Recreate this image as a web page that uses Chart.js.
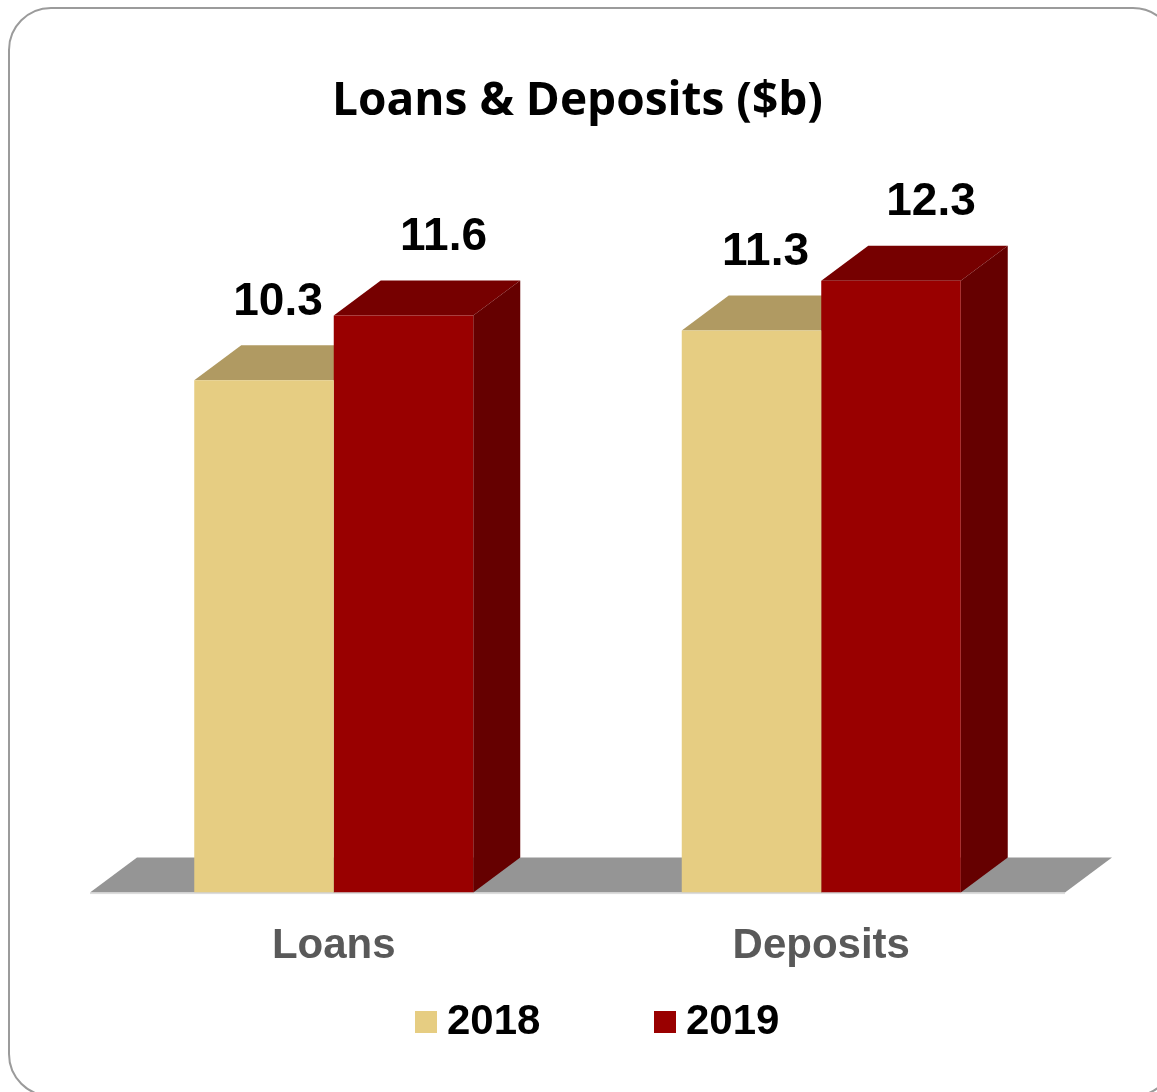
<!DOCTYPE html>
<html lang="en">
<head>
    <meta charset="UTF-8">
    <title>Loans & Deposits</title>
    <style>
        html, body { margin: 0; padding: 0; background: #ffffff; }
        canvas { display: block; }
    </style>
</head>
<body>
    <canvas id="loansChart" width="1157" height="1092"></canvas>

    <script src="https://cdn.jsdelivr.net/npm/chart.js@4/dist/chart.umd.min.js"></script>
    <script>
        // donnees
        const categories = ['Loans', 'Deposits'];
        const seriesLabels = ['2018', '2019'];
        const values2018 = [10.3, 11.3];
        const values2019 = [11.6, 12.3];

        const frontColors = ['#E6CD82', '#990000'];
        const topColors = ['#B09A62', '#760000'];
        const sideColors = ['#8C7A4C', '#650000'];
        const depthX = 47, depthY = 35;
        const arial = "'Liberation Sans', Arial, sans-serif";

        // cadre arrondi
        const framePlugin = {
            id: 'frame',
            beforeDraw(chart) {
                const c = chart.ctx;
                const x = 9, y = 8, w = 1166, h = 1088, r = 42;
                c.save();
                c.fillStyle = '#ffffff';
                c.fillRect(0, 0, chart.width, chart.height);
                c.beginPath();
                c.moveTo(x + r, y);
                c.lineTo(x + w - r, y);
                c.arcTo(x + w, y, x + w, y + r, r);
                c.lineTo(x + w, y + h - r);
                c.arcTo(x + w, y + h, x + w - r, y + h, r);
                c.lineTo(x + r, y + h);
                c.arcTo(x, y + h, x, y + h - r, r);
                c.lineTo(x, y + r);
                c.arcTo(x, y, x + r, y, r);
                c.closePath();
                c.strokeStyle = '#9b9b9b';
                c.lineWidth = 2;
                c.stroke();
                c.restore();
            }
        };

        // sol + faces 3D (dessus et cote) avant les faces avant
        const depthPlugin = {
            id: 'depth',
            beforeDatasetsDraw(chart) {
                const c = chart.ctx;
                const area = chart.chartArea;
                const y0 = chart.scales.y.getPixelForValue(0);
                c.save();
                c.fillStyle = '#959595';
                c.beginPath();
                c.moveTo(area.left, y0);
                c.lineTo(area.left + depthX, y0 - depthY);
                c.lineTo(area.right + depthX, y0 - depthY);
                c.lineTo(area.right, y0);
                c.closePath();
                c.fill();
                c.fillStyle = '#dcdcdc';
                c.fillRect(area.left, y0, area.right - area.left, 1.5);

                chart.data.datasets.forEach((ds, di) => {
                    chart.getDatasetMeta(di).data.forEach(bar => {
                        const x0 = bar.x - bar.width / 2;
                        const x1 = bar.x + bar.width / 2;
                        const yt = bar.y, yb = bar.base;
                        c.fillStyle = topColors[di];
                        c.beginPath();
                        c.moveTo(x0, yt);
                        c.lineTo(x0 + depthX, yt - depthY);
                        c.lineTo(x1 + depthX, yt - depthY);
                        c.lineTo(x1, yt);
                        c.closePath();
                        c.fill();
                        c.fillStyle = sideColors[di];
                        c.beginPath();
                        c.moveTo(x1, yt);
                        c.lineTo(x1 + depthX, yt - depthY);
                        c.lineTo(x1 + depthX, yb - depthY);
                        c.lineTo(x1, yb);
                        c.closePath();
                        c.fill();
                    });
                });
                c.restore();
            }
        };

        // etiquettes de valeurs
        const labelOffsetX = [14, 40];
        const valueLabels = {
            id: 'valueLabels',
            afterDatasetsDraw(chart) {
                const c = chart.ctx;
                c.save();
                c.font = 'bold 46px ' + arial;
                c.fillStyle = '#000000';
                c.textAlign = 'center';
                c.textBaseline = 'middle';
                chart.data.datasets.forEach((ds, di) => {
                    chart.getDatasetMeta(di).data.forEach((bar, i) => {
                        c.fillText(ds.data[i].toFixed(1), bar.x + labelOffsetX[di], bar.y - 78);
                    });
                });
                c.restore();
            }
        };

        // legende dessinee a la main
        const legendPlugin = {
            id: 'customLegend',
            afterDraw(chart) {
                const c = chart.ctx;
                c.save();
                c.font = 'bold 42px ' + arial;
                c.textBaseline = 'middle';
                c.fillStyle = '#000000';
                let x = 415;
                const yMid = 1022;
                chart.data.datasets.forEach((ds, di) => {
                    c.fillStyle = frontColors[di];
                    c.fillRect(x, yMid - 11, 22, 22);
                    c.fillStyle = '#000000';
                    c.fillText(ds.label, x + 32, yMid);
                    x += 239;
                });
                c.restore();
            }
        };

        const ctx = document.getElementById('loansChart').getContext('2d');
        const chart = new Chart(ctx, {
            type: 'bar',
            data: {
                labels: categories,
                datasets: [
                    { label: seriesLabels[0], data: values2018, backgroundColor: frontColors[0] },
                    { label: seriesLabels[1], data: values2019, backgroundColor: frontColors[1] }
                ]
            },
            options: {
                responsive: false,
                animation: false,
                devicePixelRatio: 1,
                layout: { padding: { top: 8, left: 90, right: 92, bottom: 91 } },
                datasets: { bar: { categoryPercentage: 0.5723, barPercentage: 1.0 } },
                scales: {
                    x: {
                        grid: { display: false, drawTicks: false },
                        border: { display: false },
                        ticks: {
                            padding: 29,
                            color: '#595959',
                            font: { family: arial, size: 42, weight: 'bold' }
                        }
                    },
                    y: {
                        display: false,
                        min: 0,
                        max: 14
                    }
                },
                plugins: {
                    legend: { display: false },
                    tooltip: { enabled: false },
                    title: {
                        display: true,
                        text: 'Loans & Deposits ($b)',
                        color: '#000000',
                        font: { family: "'Open Sans', sans-serif", size: 46, weight: 'bold' },
                        padding: { top: 66, bottom: 67 }
                    }
                }
            },
            plugins: [framePlugin, depthPlugin, valueLabels, legendPlugin]
        });
    </script>
</body>
</html>
